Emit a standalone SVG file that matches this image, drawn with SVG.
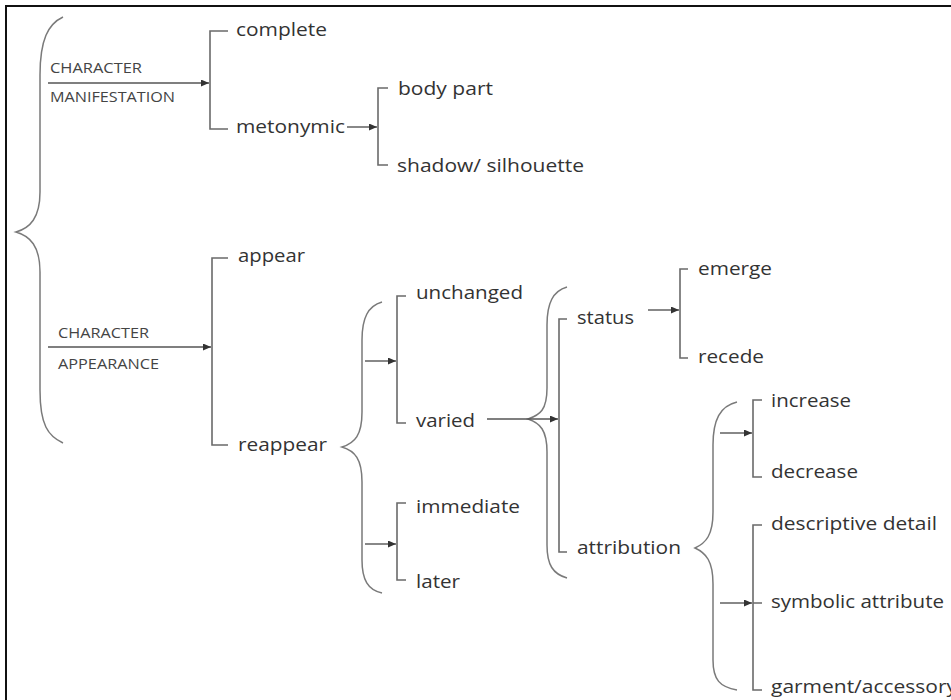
<svg xmlns="http://www.w3.org/2000/svg" width="951" height="700" viewBox="0 0 951 700">
<defs>
<marker id="ah" markerUnits="userSpaceOnUse" markerWidth="8" markerHeight="7" refX="8" refY="3.5" orient="auto">
<path d="M0,0 L8,3.5 L0,7 z" fill="#333"/>
</marker>
<style>
.t{font-family:"Open Sans","Liberation Sans",sans-serif;font-size:19px;fill:#333}
.c{font-family:"Open Sans","Liberation Sans",sans-serif;font-size:14px;fill:#444}
.b{fill:none;stroke:#7a7a7a;stroke-width:1.5}
.k{fill:none;stroke:#6a6a6a;stroke-width:1.6}
.a{fill:none;stroke:#555;stroke-width:1.4;marker-end:url(#ah)}
</style>
</defs>
<rect x="0" y="0" width="951" height="700" fill="#fff"/>
<rect x="6" y="6" width="970" height="720" fill="none" stroke="#111" stroke-width="2"/>

<g id="connectors">
<path class="b" d="M63,17 C48,24 40,40 40,75 L40,192 C40,218 30,228 16,232 C30,236 40,246 40,272 L40,390 C40,425 48,436 63,443"/>
<path class="b" d="M382,302 C368,306 362,318 362,340 L362,412 C362,435 355,443 342,447 C355,451 362,459 362,482 L362,560 C362,580 368,590 382,593"/>
<path class="b" d="M567,287 C553,291 547,303 547,325 L547,388 C547,410 540,415 528,419 C540,423 547,430 547,452 L547,545 C547,565 553,574 567,578"/>
<path class="b" d="M737,402 C720,406 713,420 713,445 L713,512 C713,535 706,543 695,548 C706,553 713,561 713,584 L713,660 C713,680 720,687 737,690"/>
<path class="k" d="M228,31 L210,31 L210,129 L228,129"/>
<path class="k" d="M388,88 L378,88 L378,165 L388,165"/>
<path class="k" d="M228,258 L212,258 L212,445 L228,445"/>
<path class="k" d="M406,296 L397,296 L397,423 L406,423"/>
<path class="k" d="M406,503 L397,503 L397,580 L406,580"/>
<path class="k" d="M567,319 L559,319 L559,552 L567,552"/>
<path class="k" d="M688,269 L680,269 L680,358 L688,358"/>
<path class="k" d="M762,400 L753,400 L753,477 L762,477"/>
<path class="k" d="M762,525 L753,525 L753,690 L762,690 M753,603 L762,603"/>
<line class="a" x1="48" y1="83" x2="209" y2="83"/>
<line class="a" x1="48" y1="347" x2="211" y2="347"/>
<line class="a" x1="347" y1="127" x2="377" y2="127"/>
<line class="a" x1="365" y1="361" x2="396" y2="361"/>
<line class="a" x1="365" y1="544" x2="396" y2="544"/>
<line class="a" x1="487" y1="419" x2="558" y2="419"/>
<line class="a" x1="648" y1="310" x2="679" y2="310"/>
<line class="a" x1="720" y1="433" x2="752" y2="433"/>
<line class="a" x1="720" y1="603" x2="752" y2="603"/>
</g>

<g id="character-manifestation">
<text class="c" x="50" y="73" textLength="92" lengthAdjust="spacingAndGlyphs">CHARACTER</text>
<text class="c" x="50" y="102" textLength="125" lengthAdjust="spacingAndGlyphs">MANIFESTATION</text>
</g>
<g id="character-appearance">
<text class="c" x="58" y="338" textLength="91" lengthAdjust="spacingAndGlyphs">CHARACTER</text>
<text class="c" x="58" y="369" textLength="101" lengthAdjust="spacingAndGlyphs">APPEARANCE</text>
</g>
<g id="complete"><text class="t" x="236" y="36" textLength="91" lengthAdjust="spacingAndGlyphs">complete</text></g>
<g id="metonymic"><text class="t" x="236" y="133" textLength="109" lengthAdjust="spacingAndGlyphs">metonymic</text></g>
<g id="body-part"><text class="t" x="398" y="95" textLength="95" lengthAdjust="spacingAndGlyphs">body part</text></g>
<g id="shadow-silhouette"><text class="t" x="397" y="172" textLength="187" lengthAdjust="spacingAndGlyphs">shadow/ silhouette</text></g>
<g id="appear"><text class="t" x="238" y="262" textLength="67" lengthAdjust="spacingAndGlyphs">appear</text></g>
<g id="reappear"><text class="t" x="238" y="451" textLength="89" lengthAdjust="spacingAndGlyphs">reappear</text></g>
<g id="unchanged"><text class="t" x="416" y="299" textLength="107" lengthAdjust="spacingAndGlyphs">unchanged</text></g>
<g id="varied"><text class="t" x="416" y="427" textLength="59" lengthAdjust="spacingAndGlyphs">varied</text></g>
<g id="immediate"><text class="t" x="416" y="513" textLength="104" lengthAdjust="spacingAndGlyphs">immediate</text></g>
<g id="later"><text class="t" x="416" y="588" textLength="44" lengthAdjust="spacingAndGlyphs">later</text></g>
<g id="status"><text class="t" x="577" y="324" textLength="57" lengthAdjust="spacingAndGlyphs">status</text></g>
<g id="attribution"><text class="t" x="577" y="554" textLength="104" lengthAdjust="spacingAndGlyphs">attribution</text></g>
<g id="emerge"><text class="t" x="698" y="275" textLength="74" lengthAdjust="spacingAndGlyphs">emerge</text></g>
<g id="recede"><text class="t" x="698" y="363" textLength="66" lengthAdjust="spacingAndGlyphs">recede</text></g>
<g id="increase"><text class="t" x="771" y="407" textLength="80" lengthAdjust="spacingAndGlyphs">increase</text></g>
<g id="decrease"><text class="t" x="771" y="478" textLength="87" lengthAdjust="spacingAndGlyphs">decrease</text></g>
<g id="descriptive-detail"><text class="t" x="771" y="530" textLength="166" lengthAdjust="spacingAndGlyphs">descriptive detail</text></g>
<g id="symbolic-attribute"><text class="t" x="771" y="608" textLength="173" lengthAdjust="spacingAndGlyphs">symbolic attribute</text></g>
<g id="garment-accessory"><text class="t" x="771" y="693" textLength="186" lengthAdjust="spacingAndGlyphs">garment/accessory</text></g>
</svg>
